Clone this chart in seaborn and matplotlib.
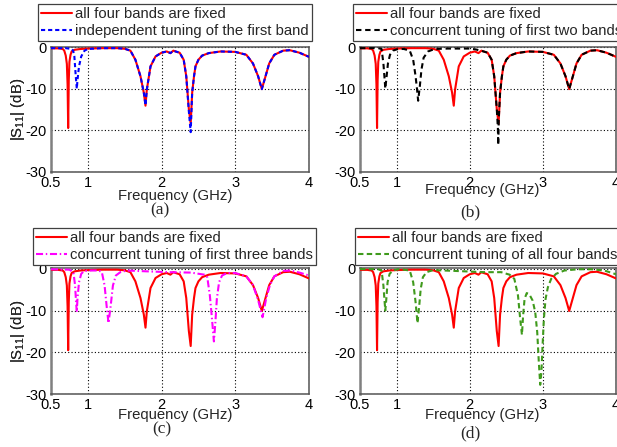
import matplotlib
matplotlib.use("Agg")
import matplotlib.pyplot as plt
import pandas as pd
import seaborn as sns

# |S11| responses (GHz, dB)
fixed_freq = [0.50, 0.60, 0.66, 0.68, 0.70, 0.715, 0.725, 0.733, 0.741, 0.75, 0.765, 0.78, 0.82,
              0.90, 1.00, 1.20, 1.40, 1.50, 1.577, 1.645, 1.714, 1.759, 1.782, 1.80, 1.85, 1.918,
              2.00, 2.07, 2.12, 2.16, 2.19, 2.245, 2.30, 2.335, 2.37, 2.395, 2.415, 2.44, 2.46,
              2.50, 2.55, 2.64, 2.80, 3.00, 3.15, 3.24, 3.31, 3.36, 3.41, 3.46, 3.53, 3.65, 3.74,
              3.87, 4.00]
fixed_s11 = [-0.25, -0.25, -0.4, -0.8, -2.0, -4.0, -9.0, -19.5, -8.0, -3.5, -1.8, -1.0, -0.6,
             -0.4, -0.3, -0.2, -0.2, -0.35, -0.8, -3.0, -7.0, -10.95, -14.1, -10.2, -4.6, -2.2,
             -1.3, -1.0, -1.4, -0.8, -1.0, -1.3, -3.0, -7.0, -14.9, -18.5, -11.0, -7.0, -4.6,
             -3.0, -2.0, -1.4, -1.0, -1.1, -1.8, -3.9, -7.0, -10.1, -7.0, -3.9, -1.8, -0.8, -0.7,
             -1.3, -2.3]

first_freq = [0.50, 0.70, 0.78, 0.80, 0.817, 0.836, 0.85, 0.86, 0.88, 0.91, 0.955, 1.00, 1.20,
              1.40, 1.50, 1.577, 1.645, 1.714, 1.759, 1.782, 1.80, 1.85, 1.918, 2.00, 2.07, 2.12,
              2.16, 2.19, 2.245, 2.30, 2.335, 2.37, 2.395, 2.415, 2.44, 2.46, 2.50, 2.55, 2.64,
              2.80, 3.00, 3.15, 3.24, 3.31, 3.36, 3.41, 3.46, 3.53, 3.65, 3.74, 3.87, 4.00]
first_s11 = [-0.2, -0.2, -0.4, -0.8, -2.2, -7.0, -10.0, -7.8, -4.6, -2.2, -0.8, -0.4, -0.2,
             -0.2, -0.35, -0.8, -3.0, -7.0, -10.95, -14.0, -10.2, -4.6, -2.2, -1.3, -1.0, -1.4,
             -0.8, -1.0, -1.3, -3.0, -7.0, -15.5, -20.5, -11.0, -7.0, -4.6, -3.0, -2.0, -1.4,
             -1.0, -1.1, -1.8, -3.9, -7.0, -10.1, -7.0, -3.9, -1.8, -0.8, -0.7, -1.3, -2.3]

two_freq = [0.50, 0.75, 0.795, 0.82, 0.837, 0.846, 0.864, 0.882, 0.91, 0.95, 1.02, 1.10, 1.18,
            1.227, 1.26, 1.28, 1.295, 1.318, 1.34, 1.37, 1.43, 1.52, 1.70, 2.00, 2.08, 2.15,
            2.19, 2.245, 2.30, 2.335, 2.37, 2.385, 2.39, 2.398, 2.415, 2.44, 2.46, 2.50, 2.55,
            2.64, 2.80, 3.00, 3.15, 3.24, 3.31, 3.36, 3.41, 3.46, 3.53, 3.65, 3.74, 3.87, 4.00]
two_s11 = [-0.2, -0.2, -0.4, -3.9, -7.8, -10.0, -7.0, -3.9, -1.8, -0.8, -0.4, -0.4, -0.8,
           -3.0, -7.0, -10.2, -12.9, -9.4, -5.4, -2.5, -1.0, -0.4, -0.3, -0.3, -0.5, -0.8,
           -1.0, -1.3, -3.0, -7.0, -14.9, -19.5, -23.6, -17.0, -11.0, -7.0, -4.6, -3.0, -2.0,
           -1.4, -1.0, -1.1, -1.8, -3.9, -7.0, -10.1, -7.0, -3.9, -1.8, -0.8, -0.7, -1.3, -2.3]

three_freq = [0.50, 0.75, 0.804, 0.827, 0.84, 0.85, 0.859, 0.88, 0.91, 0.95, 1.05, 1.15, 1.19,
              1.227, 1.254, 1.28, 1.31, 1.34, 1.38, 1.44, 1.53, 1.80, 2.10, 2.40, 2.58, 2.62,
              2.655, 2.68, 2.71, 2.73, 2.75, 2.78, 2.82, 2.89, 3.00, 3.15, 3.24, 3.31, 3.37,
              3.42, 3.47, 3.53, 3.65, 3.75, 3.87, 4.00]
three_s11 = [-0.1, -0.2, -0.8, -4.0, -8.0, -10.4, -7.2, -3.2, -1.2, -0.5, -0.4, -0.4, -0.8,
             -4.0, -8.8, -13.0, -8.8, -4.0, -1.6, -0.8, -0.4, -0.6, -0.8, -0.9, -1.4, -2.0,
             -6.4, -11.2, -17.4, -12.8, -7.2, -3.2, -1.6, -1.0, -1.0, -1.8, -3.9, -7.5, -11.6,
             -7.0, -3.9, -1.8, -0.5, -0.4, -0.9, -1.6]

four_freq = [0.50, 0.75, 0.795, 0.82, 0.837, 0.846, 0.86, 0.877, 0.905, 0.95, 1.02, 1.10, 1.18,
             1.227, 1.26, 1.286, 1.31, 1.33, 1.36, 1.41, 1.50, 1.80, 2.20, 2.43, 2.545, 2.61,
             2.66, 2.69, 2.714, 2.73, 2.75, 2.78, 2.818, 2.86, 2.896, 2.923, 2.945, 2.964, 2.98,
             2.996, 3.014, 3.037, 3.069, 3.114, 3.18, 3.295, 3.477, 3.66, 3.84, 4.00]
four_s11 = [-0.05, -0.1, -0.4, -4.0, -8.0, -10.0, -7.2, -3.2, -1.2, -0.4, -0.1, -0.2, -0.4,
            -3.2, -8.0, -13.0, -8.8, -4.8, -2.0, -0.8, -0.3, -0.5, -0.8, -0.8, -1.4, -2.4,
            -6.4, -12.0, -15.8, -11.2, -7.2, -5.8, -6.2, -7.6, -10.4, -15.2, -22.4, -27.8, -24.8,
            -18.4, -12.0, -7.2, -4.4, -2.4, -1.2, -0.4, -0.1, -0.1, -0.4, -1.3]

fixed_label = "all four bands are fixed"
tuned_labels = ["independent tuning of the first band",
                "concurrent tuning of first two bands",
                "concurrent tuning of first three bands",
                "concurrent tuning of all four bands"]
panel_letters = ["(a)", "(b)", "(c)", "(d)"]
x_ticks = [0.5, 1, 2, 3, 4]
x_tick_labels = ["0.5", "1", "2", "3", "4"]
y_ticks = [0, -10, -20, -30]
y_tick_labels = ["0", "-10", "-20", "-30"]

sns.set_style("white")
plt.rcParams["font.family"] = ["Liberation Sans", "DejaVu Sans"]
plt.rcParams["mathtext.fontset"] = "custom"
plt.rcParams["mathtext.rm"] = "Liberation Sans"
plt.rcParams["mathtext.it"] = "Liberation Sans:italic"
plt.rcParams["axes.unicode_minus"] = False

W, H = 617, 447
fig = plt.figure(figsize=(W / 100, H / 100), dpi=100)


def rect(left, top, right, bottom):
    return [left / W, 1 - bottom / H, (right - left) / W, (bottom - top) / H]


tuned = [(first_freq, first_s11), (two_freq, two_s11),
         (three_freq, three_s11), (four_freq, four_s11)]
styles = [
    dict(color="#0000ff", linestyle=(0, (2.0, 1.4))),
    dict(color="#000000", linestyle=(0, (2.6, 1.8))),
    dict(color="#ff00ff", linestyle=(0, (3.4, 1.3, 0.7, 1.3))),
    dict(color="#3f9a1c", linestyle=(0, (2.6, 1.6))),
]
boxes = [rect(51, 46.5, 309, 171.5), rect(360, 46.5, 616, 171.5),
         rect(51, 268, 309, 394), rect(360, 268, 616, 394)]
legend_anchor = [(38, 4), (353, 4), (33, 228), (355, 228)]
xlabel_top = [189, 183, 408, 408]
xlabel_cx = [175, 482, 175, 482]
letter_pos = [(160, 210), (470, 212), (162, 429), (470, 433)]

for i in range(4):
    ax = fig.add_axes(boxes[i])
    f_t, s_t = tuned[i]
    fixed_df = pd.DataFrame({"f": fixed_freq, "s11": fixed_s11})
    tuned_df = pd.DataFrame({"f": f_t, "s11": s_t})
    sns.lineplot(data=fixed_df, x="f", y="s11", ax=ax, color="#ff0000", lw=1.5,
                 sort=False, estimator=None, label=fixed_label, zorder=3)
    sns.lineplot(data=tuned_df, x="f", y="s11", ax=ax, lw=1.5, sort=False,
                 estimator=None, label=tuned_labels[i], zorder=4, **styles[i])

    ax.set_xlim(0.5, 4)
    ax.set_ylim(-30, 0.2)
    ax.set_xticks(x_ticks)
    ax.set_xticklabels(x_tick_labels)
    ax.set_yticks(y_ticks)
    ax.set_yticklabels(y_tick_labels)
    ax.tick_params(axis="both", labelsize=10.5, direction="in", length=3,
                   pad=3, colors="#000000")
    ax.grid(True, color="black", linestyle=(0, (1, 2)), linewidth=0.8)
    for side, sp in ax.spines.items():
        sp.set_visible(True)
        sp.set_color("#555555")
        sp.set_linewidth(1.1)
    ax.spines["left"].set_color("#808080")
    ax.spines["left"].set_linewidth(1.8)

    b = boxes[i]
    left_px = b[0] * W
    width_px = b[2] * W
    bottom_px = (1 - b[1]) * H
    height_px = b[3] * H
    ax.set_xlabel("Frequency (GHz)", fontsize=10.7)
    ax.xaxis.set_label_coords((xlabel_cx[i] - left_px) / width_px,
                              (bottom_px - xlabel_top[i]) / height_px)
    ax.set_ylabel(r"|S$_{11}$| (dB)", fontsize=10.7)
    ax.yaxis.set_label_coords((27 - left_px) / width_px, 0.5)

    lx, ly = legend_anchor[i]
    leg = ax.legend(loc="upper left", bbox_to_anchor=(lx / W, 1 - ly / H),
                    bbox_transform=fig.transFigure, borderaxespad=0, fontsize=10.7,
                    frameon=True, fancybox=False, framealpha=1, edgecolor="#404040",
                    handlelength=2.1, handletextpad=0.15, borderpad=0.22,
                    labelspacing=0.18)
    leg.get_frame().set_linewidth(0.9)

    px, py = letter_pos[i]
    fig.text(px / W, 1 - py / H, panel_letters[i], ha="center", va="center",
             fontsize=12.5, family=["Liberation Serif", "DejaVu Serif"])

fig.savefig("out.png", dpi=100)
